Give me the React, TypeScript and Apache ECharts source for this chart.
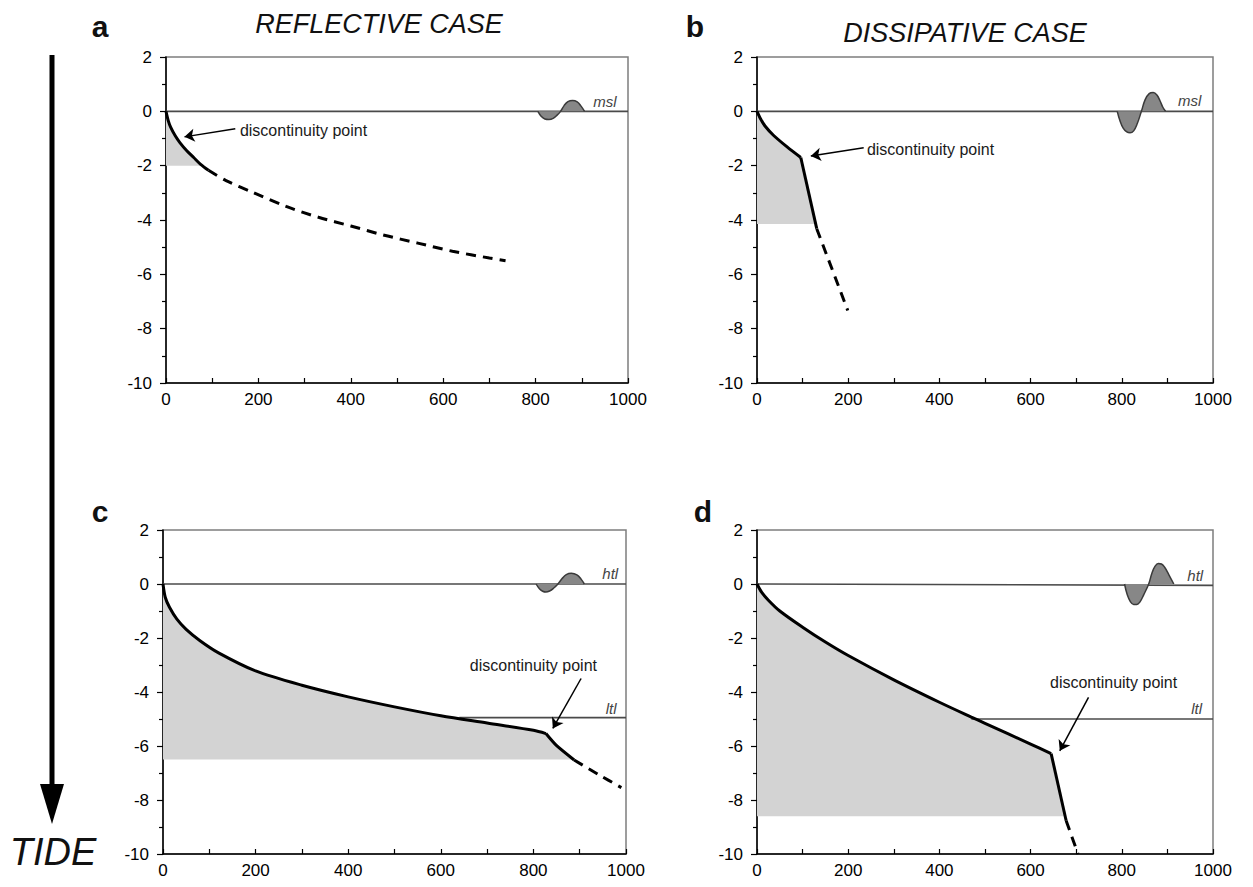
import React, { useEffect, useRef } from "react";
import * as echarts from "echarts";

const FONT = "'Liberation Sans', Arial, Helvetica, sans-serif";

// ---- axis ticks ----
const xMin = 0, xMax = 1000, xStep = 200;
const yMin = -10, yMax = 2, yStep = 2;

// ---- panel a (reflective, msl) ----
const aSolid = [[0, 0], [5, -0.35], [10, -0.58], [20, -0.9], [30, -1.15], [45, -1.45], [60, -1.7], [75, -1.95], [92, -2.17]];
const aDashed = [[92, -2.17], [130, -2.55], [190, -3.0], [260, -3.5], [330, -3.9], [400, -4.22], [470, -4.55], [545, -4.85], [620, -5.15], [700, -5.4], [735, -5.5]];
const aFill = [[0, 0], [5, -0.35], [10, -0.58], [20, -0.9], [30, -1.15], [45, -1.45], [60, -1.7], [75, -1.95], [78, -2]];
const aFloor = -2;
const aWave = [[805, 0], [812, -0.18], [820, -0.28], [829, -0.3], [838, -0.26], [846, -0.15], [854, 0], [862, 0.22], [870, 0.36], [880, 0.4], [890, 0.35], [898, 0.2], [906, 0]];
const aLevel = [[0, 0], [1000, 0]];

// ---- panel b (dissipative, msl) ----
const bCurve = [[0, 0], [8, -0.28], [18, -0.55], [36, -0.88], [66, -1.31], [96, -1.7]];
const bSteep = [[96, -1.7], [131, -4.32]];
const bDashed = [[131, -4.32], [199, -7.33]];
const bFill = [[0, 0], [8, -0.28], [18, -0.55], [36, -0.88], [66, -1.31], [96, -1.7], [129, -4.15]];
const bFloor = -4.15;
const bWave = [[790, 0], [796, -0.35], [803, -0.62], [811, -0.76], [818, -0.79], [826, -0.72], [834, -0.45], [843, 0], [851, 0.42], [860, 0.65], [869, 0.69], [877, 0.6], [884, 0.38], [890, 0.15], [896, 0]];
const bLevel = [[0, 0], [1000, 0]];

// ---- panel c (reflective, htl / ltl) ----
const cCurve = [[0, 0], [5, -0.5], [14, -0.86], [30, -1.3], [50, -1.68], [80, -2.1], [120, -2.55], [200, -3.22], [300, -3.75], [400, -4.18], [500, -4.55], [600, -4.88], [700, -5.15], [800, -5.42], [827, -5.54]];
const cSteep = [[827, -5.54], [849, -5.97], [888, -6.52]];
const cDashed = [[888, -6.52], [940, -7.05], [990, -7.54]];
const cFill = [[0, 0], [5, -0.5], [14, -0.86], [30, -1.3], [50, -1.68], [80, -2.1], [120, -2.55], [200, -3.22], [300, -3.75], [400, -4.18], [500, -4.55], [600, -4.88], [700, -5.15], [800, -5.42], [827, -5.54], [849, -5.97], [886, -6.5]];
const cFloor = -6.5;
const cWave = [[806, 0], [813, -0.18], [820, -0.27], [827, -0.3], [835, -0.26], [844, -0.15], [853, 0], [862, 0.2], [871, 0.35], [882, 0.4], [894, 0.34], [903, 0.18], [910, 0]];
const cHigh = [[0, 0], [1000, 0]];
const cLow = [[640, -4.95], [1000, -4.95]];

// ---- panel d (dissipative, htl / ltl) ----
const dCurve = [[0, 0], [10, -0.3], [25, -0.6], [50, -1.0], [100, -1.6], [150, -2.15], [200, -2.65], [300, -3.55], [400, -4.38], [470, -4.93], [500, -5.16], [600, -5.93], [645, -6.28]];
const dSteep = [[645, -6.28], [678, -8.77]];
const dDashed = [[678, -8.77], [704, -10]];
const dFill = [[0, 0], [10, -0.3], [25, -0.6], [50, -1.0], [100, -1.6], [150, -2.15], [200, -2.65], [300, -3.55], [400, -4.38], [470, -4.93], [500, -5.16], [600, -5.93], [645, -6.28], [676, -8.6]];
const dFloor = -8.6;
const dWave = [[806, 0], [812, -0.4], [819, -0.66], [826, -0.76], [833, -0.76], [840, -0.66], [848, -0.4], [859, 0], [866, 0.4], [873, 0.66], [880, 0.76], [887, 0.74], [894, 0.62], [903, 0.35], [914, 0]];
const dHigh = [[0, 0], [1000, -0.05]];
const dLow = [[470, -5.0], [1000, -5.0]];

// ---- annotation anchors (data coords) ----
const discText = "discontinuity point";
const aArrow = [[150, -0.64], [40, -0.94]];
const bArrow = [[234, -1.34], [118, -1.64]];
const cArrow = [[903, -3.5], [842, -5.35]];
const dArrow = [[727, -4.2], [664, -6.18]];

const grids = [
  { left: 166, top: 57, width: 462, height: 326 },
  { left: 757, top: 57, width: 456, height: 326 },
  { left: 163, top: 530, width: 463, height: 324 },
  { left: 757, top: 530, width: 456, height: 324 },
];

function axisCommon() {
  return {
    axisLine: { show: true, onZero: false, lineStyle: { color: "#000", width: 1.5 } },
    axisTick: { show: true, length: 6, lineStyle: { color: "#000", width: 1.2 } },
    minorTick: { show: true, splitNumber: 2, length: 4, lineStyle: { color: "#000", width: 1.2 } },
    splitLine: { show: false },
    minorSplitLine: { show: false },
  };
}

function seriesFor(i: number, p: any) {
  const base = { xAxisIndex: i, yAxisIndex: i, symbol: "none", showSymbol: false, silent: true, animation: false };
  const out: any[] = [];
  out.push({
    ...base, type: "line", data: p.fill, z: 1,
    lineStyle: { width: 0, opacity: 0 },
    areaStyle: { color: "#d3d3d3", opacity: 1, origin: p.floor },
  });
  for (const lv of p.levels) {
    out.push({ ...base, type: "line", data: lv, z: 2, lineStyle: { color: "#4a4a4a", width: 1.6 } });
  }
  out.push({
    ...base, type: "line", data: p.wave, z: 3, smooth: 0.4,
    lineStyle: { color: "#3a3a3a", width: 1.5 },
    areaStyle: { color: "#878787", opacity: 1, origin: 0 },
  });
  out.push({
    ...base, type: "line", data: p.curve, z: 4, smooth: 0.3,
    lineStyle: { color: "#000", width: 3 },
    markLine: {
      silent: true, animation: false, symbol: ["none", "arrow"], symbolSize: 10,
      lineStyle: { color: "#000", width: 1.5, type: "solid" },
      label: { show: false },
      data: [[{ coord: p.arrow[0] }, { coord: p.arrow[1] }]],
    },
  });
  if (p.steep) {
    out.push({ ...base, type: "line", data: p.steep, z: 4, smooth: 0.2, lineStyle: { color: "#000", width: 3 } });
  }
  out.push({
    ...base, type: "line", data: p.dashed, z: 4, smooth: 0.3,
    lineStyle: { color: "#000", width: 3, type: [10, 7] },
  });
  return out;
}

const panels = [
  { curve: aSolid, steep: null, dashed: aDashed, fill: aFill, floor: aFloor, wave: aWave, levels: [aLevel], arrow: aArrow },
  { curve: bCurve, steep: bSteep, dashed: bDashed, fill: bFill, floor: bFloor, wave: bWave, levels: [bLevel], arrow: bArrow },
  { curve: cCurve, steep: cSteep, dashed: cDashed, fill: cFill, floor: cFloor, wave: cWave, levels: [cHigh, cLow], arrow: cArrow },
  { curve: dCurve, steep: dSteep, dashed: dDashed, fill: dFill, floor: dFloor, wave: dWave, levels: [dHigh, dLow], arrow: dArrow },
];

// labels placed in data coordinates: [grid, x, y, text, align, italic]
const dataTexts: [number, number, number, string, string, boolean][] = [
  [0, 160, -0.72, discText, "left", false],
  [0, 950, 0.38, "msl", "center", true],
  [1, 241, -1.41, discText, "left", false],
  [1, 949, 0.4, "msl", "center", true],
  [2, 800, -3.0, discText, "center", false],
  [2, 966, 0.38, "htl", "center", true],
  [2, 968, -4.6, "ltl", "center", true],
  [3, 782, -3.63, discText, "center", false],
  [3, 961, 0.33, "htl", "center", true],
  [3, 964, -4.62, "ltl", "center", true],
];

const plainNum = (v: number) => String(v);

export default function App() {
  const ref = useRef<HTMLDivElement>(null);
  useEffect(() => {
    document.body.style.margin = "0";
    const chart = echarts.init(ref.current!, null, { renderer: "svg" });
    const option: any = {
      animation: false,
      backgroundColor: "#fff",
      grid: grids.map((g) => ({ ...g, show: true, borderColor: "#7d7d7d", borderWidth: 1.5, backgroundColor: "transparent" })),
      xAxis: grids.map((_, i) => ({
        type: "value", gridIndex: i, min: xMin, max: xMax, interval: xStep, ...axisCommon(),
        axisTick: { show: true, inside: true, length: 5, lineStyle: { color: "#000", width: 1.2 } },
        minorTick: { show: true, splitNumber: 2, length: 5, lineStyle: { color: "#000", width: 1.2 } },
        axisLabel: { fontSize: 17, color: "#000", fontFamily: FONT, margin: 8, formatter: plainNum },
      })),
      yAxis: grids.map((_, i) => ({
        type: "value", gridIndex: i, min: yMin, max: yMax, interval: yStep, ...axisCommon(),
        axisLabel: { fontSize: 17, color: "#000", fontFamily: FONT, margin: 14, formatter: plainNum },
      })),
      series: panels.flatMap((p, i) => seriesFor(i, p)),
    };
    chart.setOption(option);

    const g: any[] = [];
    for (const [gi, x, y, text, align, italic] of dataTexts) {
      const pt = chart.convertToPixel({ gridIndex: gi } as any, [x, y]) as number[];
      g.push({
        type: "text", x: pt[0], y: pt[1], silent: true, z: 10,
        style: {
          text, fontSize: italic ? 15 : 16, fontFamily: FONT, fontStyle: italic ? "italic" : "normal",
          fill: italic ? "#444" : "#1a1a1a", align, verticalAlign: "middle",
        },
      });
    }
    // titles & panel letters
    g.push({ type: "text", x: 379, y: 24, style: { text: "REFLECTIVE CASE", fontSize: 27, fontStyle: "italic", fontFamily: FONT, fill: "#111", align: "center", verticalAlign: "middle" } });
    g.push({ type: "text", x: 965, y: 33, style: { text: "DISSIPATIVE CASE", fontSize: 27, fontStyle: "italic", fontFamily: FONT, fill: "#111", align: "center", verticalAlign: "middle" } });
    const letters: [string, number, number][] = [["a", 100, 26], ["b", 695, 26], ["c", 100, 511], ["d", 703, 511]];
    for (const [t, x, y] of letters) {
      g.push({ type: "text", x, y, style: { text: t, fontSize: 30, fontWeight: "bold", fontFamily: FONT, fill: "#111", align: "center", verticalAlign: "middle" } });
    }
    // TIDE arrow
    g.push({ type: "line", shape: { x1: 52, y1: 55, x2: 52, y2: 790 }, style: { stroke: "#000", lineWidth: 5 } });
    g.push({ type: "polygon", shape: { points: [[40, 784], [64, 784], [52, 824]] }, style: { fill: "#000" } });
    g.push({ type: "text", x: 53, y: 852, style: { text: "TIDE", fontSize: 38, fontStyle: "italic", fontFamily: FONT, fill: "#111", align: "center", verticalAlign: "middle" } });
    chart.setOption({ graphic: g });

    return () => chart.dispose();
  }, []);
  return <div ref={ref} style={{ position: "fixed", left: 0, top: 0, width: 1253, height: 887 }} />;
}
